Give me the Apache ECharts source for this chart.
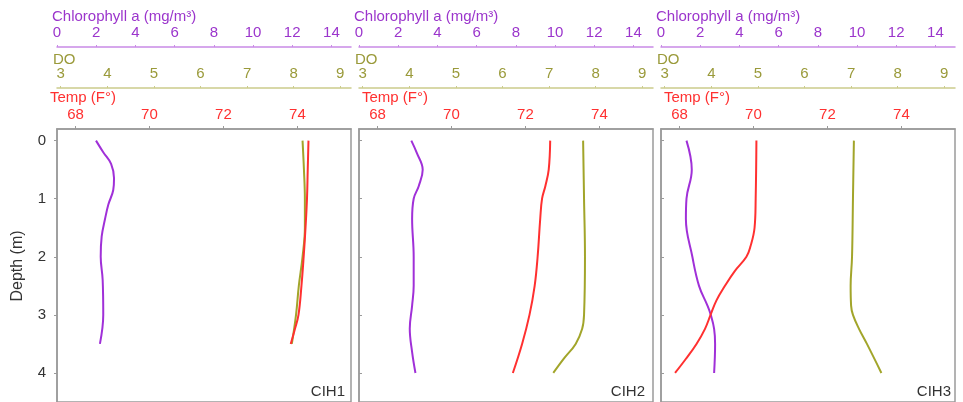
<!DOCTYPE html>
<html>
<head>
<meta charset="utf-8">
<script src="https://cdn.jsdelivr.net/npm/echarts@6/dist/echarts.min.js"></script>
<style>html,body{margin:0;padding:0;background:#fff}#c{width:963px;height:402px}</style>
</head>
<body>
<div id="c"></div>
<script>
// ---- data ----
var panelNames = ['CIH1', 'CIH2', 'CIH3'];
var chlTicks = [0, 2, 4, 6, 8, 10, 12, 14];
var doTicks = [3, 4, 5, 6, 7, 8, 9];
var tempTicks = [68, 70, 72, 74];
var depthTicks = [0, 1, 2, 3, 4];

// CIH1
var chl1Depth = [0, 0.2, 0.4, 0.65, 0.85, 1.1, 1.35, 1.65, 2.0, 2.4, 3.0, 3.5];
var chl1Val   = [1.99, 2.36, 2.76, 2.91, 2.87, 2.62, 2.45, 2.28, 2.23, 2.33, 2.36, 2.19];
var temp1Depth = [0, 0.5, 1, 1.5, 2, 2.5, 3, 3.25, 3.5];
var temp1Val   = [74.30, 74.28, 74.26, 74.22, 74.17, 74.11, 74.03, 73.93, 73.82];
var do1Depth = [0, 0.5, 1, 1.5, 2, 2.5, 3, 3.5];
var do1Val   = [8.19, 8.22, 8.24, 8.24, 8.19, 8.11, 8.05, 7.96];

// CIH2
var chl2Depth = [0, 0.22, 0.5, 0.78, 1.0, 1.35, 2.0, 2.5, 2.84, 3.24, 3.64, 4.0];
var chl2Val   = [2.67, 2.96, 3.25, 3.05, 2.79, 2.71, 2.79, 2.79, 2.71, 2.59, 2.71, 2.88];
var temp2Depth = [0, 0.5, 0.78, 1.0, 1.35, 2.0, 2.5, 3.0, 3.5, 4.0];
var temp2Val   = [72.67, 72.63, 72.54, 72.45, 72.40, 72.33, 72.25, 72.11, 71.91, 71.66];
var do2Depth = [0, 1, 2, 3, 3.24, 3.5, 3.75, 4.0];
var do2Val   = [7.73, 7.75, 7.77, 7.75, 7.71, 7.57, 7.32, 7.09];

// CIH3
var chl3Depth = [0, 0.5, 1.0, 1.35, 2.0, 2.5, 2.84, 3.0, 3.24, 3.5, 4.0];
var chl3Val   = [1.30, 1.57, 1.30, 1.27, 1.60, 1.94, 2.37, 2.54, 2.71, 2.76, 2.71];
var temp3Depth = [0, 1.0, 1.5, 1.82, 2.0, 2.25, 2.5, 2.75, 3.0, 3.24, 3.5, 3.76, 4.0];
var temp3Val   = [70.08, 70.06, 70.03, 69.92, 69.81, 69.49, 69.23, 69.00, 68.84, 68.69, 68.46, 68.17, 67.88];
var do3Depth = [0, 1, 2, 2.5, 2.84, 3.0, 3.24, 3.5, 4.0];
var do3Val   = [7.06, 7.04, 7.02, 6.99, 7.00, 7.04, 7.17, 7.34, 7.65];

var chlData = [[chl1Val, chl1Depth], [chl2Val, chl2Depth], [chl3Val, chl3Depth]];
var tempData = [[temp1Val, temp1Depth], [temp2Val, temp2Depth], [temp3Val, temp3Depth]];
var doData = [[do1Val, do1Depth], [do2Val, do2Depth], [do3Val, do3Depth]];

// ---- style ----
var FONT = 'Liberation Sans, Arial, sans-serif';
var PURPLE = '#a030d8', PURPLE_LABEL = '#9b35cc', PURPLE_AXIS = '#c98ae6';
var RED = '#ff3030';
var OLIVE = '#a2a52a', OLIVE_LABEL = '#9a9a3a', OLIVE_AXIS = '#cbcc8c';
var FRAME = '#9a9a9a';
var lefts = [57, 359, 661];
var W = 294, TOP = 129, H = 274;

function pairs(arr) { return arr[0].map(function (v, i) { return [v, arr[1][i]]; }); }

var grids = [], xAxes = [], yAxes = [], series = [], graphics = [];
lefts.forEach(function (L, p) {
  grids.push({ left: L, top: TOP, width: W, height: H, show: true, borderColor: FRAME, borderWidth: 1.5, backgroundColor: 'transparent' });
  var base = xAxes.length;
  // temp axis (frame top)
  xAxes.push({ type: 'value', gridIndex: p, position: 'top', min: 67.5, max: 75.45,
    axisLine: { show: true, onZero: false, lineStyle: { color: FRAME, width: 1.5 } }, splitLine: { show: false },
    axisTick: { show: true, customValues: tempTicks, inside: false, length: 3, lineStyle: { color: FRAME } },
    axisLabel: { customValues: tempTicks, color: RED, fontSize: 15, fontFamily: FONT, margin: 7 } });
  // DO axis
  xAxes.push({ type: 'value', gridIndex: p, position: 'top', offset: 41, min: 2.92, max: 9.23,
    axisLine: { show: true, onZero: false, lineStyle: { color: OLIVE_AXIS, width: 1.5 } }, splitLine: { show: false },
    axisTick: { show: true, customValues: doTicks, length: 2, lineStyle: { color: OLIVE_AXIS } },
    axisLabel: { customValues: doTicks, color: OLIVE_LABEL, fontSize: 15, fontFamily: FONT, margin: 7 } });
  // Chlorophyll axis
  xAxes.push({ type: 'value', gridIndex: p, position: 'top', offset: 82, min: 0, max: 15,
    axisLine: { show: true, onZero: false, lineStyle: { color: PURPLE_AXIS, width: 1.5 } }, splitLine: { show: false },
    axisTick: { show: true, customValues: chlTicks, length: 2, lineStyle: { color: PURPLE_AXIS } },
    axisLabel: { customValues: chlTicks, color: PURPLE_LABEL, fontSize: 15, fontFamily: FONT, margin: 7 } });
  yAxes.push({ type: 'value', gridIndex: p, position: 'left', min: -0.2, max: 4.5, inverse: true,
    axisLine: { show: true, onZero: false, lineStyle: { color: FRAME, width: 1.5 } }, splitLine: { show: false },
    axisTick: { show: true, customValues: depthTicks, inside: p > 0, length: 3, lineStyle: { color: FRAME } },
    axisLabel: { show: p === 0, customValues: depthTicks, color: '#333', fontSize: 15, fontFamily: FONT, margin: 11 } });

  var common = { type: 'line', showSymbol: false, smooth: 0.4, yAxisIndex: p, silent: true };
  series.push(Object.assign({}, common, { xAxisIndex: base + 2, data: pairs(chlData[p]), lineStyle: { color: PURPLE, width: 2 }, itemStyle: { color: PURPLE } }));
  series.push(Object.assign({}, common, { xAxisIndex: base + 1, data: pairs(doData[p]), lineStyle: { color: OLIVE, width: 2 }, itemStyle: { color: OLIVE } }));
  series.push(Object.assign({}, common, { xAxisIndex: base, data: pairs(tempData[p]), lineStyle: { color: RED, width: 2 }, itemStyle: { color: RED } }));

  graphics.push({ type: 'text', x: L - 5, y: 17, style: { text: 'Chlorophyll a (mg/m³)', fill: PURPLE_LABEL, font: '15px ' + FONT, verticalAlign: 'middle', align: 'left' } });
  graphics.push({ type: 'text', x: L - 4, y: 60, style: { text: 'DO', fill: OLIVE_LABEL, font: '15px ' + FONT, verticalAlign: 'middle', align: 'left' } });
  graphics.push({ type: 'text', x: p === 0 ? L - 7 : L + 3, y: 98, style: { text: 'Temp (F°)', fill: RED, font: '15px ' + FONT, verticalAlign: 'middle', align: 'left' } });
  graphics.push({ type: 'text', x: L + W - [6, 8, 4][p], y: 392, style: { text: panelNames[p], fill: '#333', font: '15px ' + FONT, verticalAlign: 'middle', align: 'right' } });
});
graphics.push({ type: 'text', x: 18, y: 266, rotation: Math.PI / 2, style: { text: 'Depth (m)', fill: '#333', font: '16px ' + FONT, verticalAlign: 'middle', align: 'center' } });

var chart = echarts.init(document.getElementById('c'), null, { renderer: 'canvas' });
chart.setOption({
  animation: false,
  backgroundColor: '#fff',
  grid: grids,
  xAxis: xAxes,
  yAxis: yAxes,
  series: series,
  graphic: graphics
});
</script>
</body>
</html>
